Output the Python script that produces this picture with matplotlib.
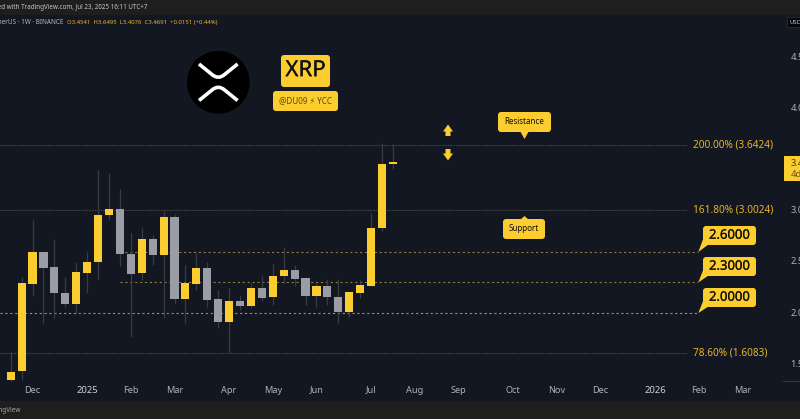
import matplotlib
matplotlib.use('Agg')
from matplotlib import pyplot as plt
from matplotlib import patheffects as pe
from matplotlib.patches import Circle, FancyBboxPatch, PathPatch, Polygon, Rectangle
from matplotlib.path import Path

# weekly candles, XRP/USDT
opens = [1.342, 1.430, 2.286, 2.599, 2.447, 2.198, 2.088, 2.394, 2.499, 2.955, 3.020, 2.580,
         2.388, 2.726, 2.567, 2.935, 2.134, 2.286, 2.437, 2.134, 1.915, 2.114, 2.071, 2.247,
         2.153, 2.362, 2.423, 2.339, 2.169, 2.264, 2.159, 2.010, 2.198, 2.267, 2.831, 3.4541]
closes = [1.426, 2.290, 2.599, 2.443, 2.196, 2.085, 2.398, 2.501, 2.958, 3.020, 2.574, 2.384,
          2.726, 2.567, 2.938, 2.134, 2.290, 2.437, 2.130, 1.915, 2.114, 2.071, 2.247, 2.150,
          2.365, 2.423, 2.335, 2.169, 2.264, 2.156, 2.010, 2.202, 2.271, 2.834, 3.454, 3.4691]
highs = [1.622, 2.349, 2.909, 2.606, 2.723, 2.355, 2.501, 2.599, 3.398, 3.366, 3.212, 2.785,
         2.834, 2.762, 3.000, 2.968, 2.469, 2.589, 2.496, 2.225, 2.241, 2.179, 2.290, 2.362,
         2.476, 2.648, 2.472, 2.339, 2.290, 2.332, 2.332, 2.202, 2.323, 2.978, 3.659, 3.6495]
lows = [1.335, 1.345, 2.169, 1.899, 1.954, 2.062, 2.003, 2.198, 2.329, 2.909, 2.459, 1.768,
        2.323, 2.466, 1.954, 2.085, 1.899, 2.225, 2.056, 1.856, 1.606, 2.029, 2.052, 2.117,
        2.075, 2.296, 2.264, 2.078, 2.056, 2.078, 1.905, 1.958, 2.144, 2.267, 2.805, 3.4076]

tick_weeks = [2, 7, 11, 15, 20, 24, 28, 33, 37, 41, 46, 50, 54, 59, 63, 67]
tick_labels = ['Dec', '2025', 'Feb', 'Mar', 'Apr', 'May', 'Jun', 'Jul', 'Aug', 'Sep', 'Oct',
               'Nov', 'Dec', '2026', 'Feb', 'Mar']
price_ticks = [1.5, 2.0, 2.5, 3.0, 4.0, 4.5]
price_labels = ['1.5', '2.0', '2.5', '3.0', '4.0', '4.5']

fib_levels = [3.6424, 3.0024, 1.6083]
fib_labels = ['200.00% (3.6424)', '161.80% (3.0024)', '78.60% (1.6083)']
key_levels = [2.6, 2.3, 2.0]
key_labels = ['2.6000', '2.3000', '2.0000']

BG = '#131722'
BAR = '#1e1e1e'
YELLOW = '#fccd2f'
GOLD = '#e5b62a'
GRAY = '#9a9ca6'
TEXT = '#aeb1b9'
WICK = '#3a3c42'

plt.rcParams['font.family'] = ['Noto Sans', 'DejaVu Sans']

W, H = 800, 419
fig = plt.figure(figsize=(W / 100, H / 100), dpi=100, facecolor=BG)

# price axes fill the whole figure, week 0 sits at 10.7px and 2.0 at 313px
ax = fig.add_axes([0, 0, 1, 1], facecolor=BG)
ax.set_xlim(-10.7 / 10.92, (W - 10.7) / 10.92)
ax.set_ylim(2 - (H - 313) / 102.3, 2 + 313 / 102.3)
ax.axis('off')

# pixel overlay for the hand drawn stickers
ov = fig.add_axes([0, 0, 1, 1], facecolor='none')
ov.set_xlim(0, W)
ov.set_ylim(H, 0)
ov.axis('off')


def week_at(px):
    return (px - 10.7) / 10.92


def sticker(x, y, w, h, text, size, weight='normal', color='#111111', stroke=0):
    ov.add_patch(FancyBboxPatch((x + 2, y + 2), w - 4, h - 4, boxstyle='round,pad=2,rounding_size=3',
                                fc=YELLOW, ec='none', zorder=5))
    t = ov.text(x + w / 2, y + h / 2 - 0.3, text, color=color, fontsize=size, fontweight=weight,
                ha='center', va='center', zorder=6)
    if stroke:
        t.set_path_effects([pe.withStroke(linewidth=stroke, foreground=color)])


# levels
for level in fib_levels:
    ax.plot([week_at(0), week_at(687)], [level, level], color='#45453f', lw=0.8, ls=(0, (1.5, 1)), zorder=1)
for level, col in zip(key_levels, ['#8a7a3e', '#8a7a3e', '#8f9088']):
    start = week_at(0) if level == 2.0 else week_at(120)
    ax.plot([start, week_at(698)], [level, level], color=col, lw=0.8, ls=(0, (2, 2.4)), zorder=1)

# candles
for i, (o, c, h, l) in enumerate(zip(opens, closes, highs, lows)):
    col = YELLOW if c >= o else GRAY
    ax.plot([i, i], [l, h], color=WICK, lw=0.9, zorder=2, solid_capstyle='butt')
    ax.add_patch(Rectangle((i - 0.37, min(o, c)), 0.74, max(abs(c - o), 0.02), fc=col, ec='none', zorder=3))

# fib labels
for level, label in zip(fib_levels, fib_labels):
    ax.text(week_at(693), level, label, color=GOLD, fontsize=7.2, va='center', ha='left', zorder=4)

# price and time scales
for p, label in zip(price_ticks, price_labels):
    ax.text(week_at(790.5), p, label, color=TEXT, fontsize=6.8, ha='left', va='center', zorder=4)
for w, label in zip(tick_weeks, tick_labels):
    bold = label.isdigit()
    ax.text(w, 2 - (390 - 313) / 102.3, label, color='#d0d2d8' if bold else TEXT,
            fontsize=6.8 if bold else 6.6, fontweight='bold' if bold else 'normal',
            ha='center', va='center', zorder=4)

# top and bottom bars
ov.add_patch(Rectangle((0, 0), W, 15, fc=BAR, ec='none', zorder=1))
ov.add_patch(Rectangle((0, 401), W, 18, fc=BAR, ec='none', zorder=1))
ov.plot([783, 800], [380.5, 380.5], color='#34373f', lw=0.8, zorder=2)
ov.text(147, 7.7, 'Published with TradingView.com, Jul 23, 2025 16:11 UTC+7', color='#c8c8c8', fontsize=4.5,
        va='center', ha='right', zorder=3)
ov.text(21, 410.5, 'TradingView', color='#a8a8a8', fontsize=4.6, va='center', ha='right', zorder=3)

# header line
ov.text(63, 22.5, 'XRP / TetherUS · 1W · BINANCE', color='#b4b7bf', fontsize=4.6, va='center', ha='right', zorder=3)
ov.text(67, 22.5, 'O3.4541  H3.6495  L3.4076  C3.4691  +0.0151 (+0.44%)', color=GOLD, fontsize=4.3,
        va='center', ha='left', zorder=3)

# logo
ov.add_patch(Circle((218.3, 82.3), 31.4, fc='black', ec='none', zorder=4))
arc_codes = [Path.MOVETO, Path.LINETO, Path.CURVE3, Path.CURVE3, Path.LINETO]
upper = Path([(199, 64), (212, 74.5), (218.3, 80), (224.6, 74.5), (237.6, 64)], arc_codes)
lower = Path([(199, 100.5), (212, 90), (218.3, 84.5), (224.6, 90), (237.6, 100.5)], arc_codes)
for p in (upper, lower):
    ov.add_patch(PathPatch(p, fc='none', ec='white', lw=2.6, capstyle='butt', joinstyle='round', zorder=5))

# stickers
sticker(281, 55, 49, 32, 'XRP', 16, stroke=0.15)
sticker(273, 91, 65, 20, '@DU09 ⚡ YCC', 5.8, weight='bold', color='#5a4a12')
sticker(498, 112, 53, 20, 'Resistance', 5.8, weight='bold')
ov.add_patch(Polygon([(520, 131), (529, 131), (524.5, 139)], fc=YELLOW, ec='none', zorder=5))
sticker(503, 219, 42, 20, 'Support', 5.8, weight='bold')
ov.add_patch(Polygon([(520, 220), (529, 220), (524.5, 216)], fc=YELLOW, ec='none', zorder=5))

# up and down arrows
ov.add_patch(Polygon([(448, 124.5), (453, 131.5), (450.5, 131.5), (450.5, 136), (445.5, 136), (445.5, 131.5),
                      (443, 131.5)], fc=YELLOW, ec='none', zorder=5))
ov.add_patch(Polygon([(448, 160.5), (453, 153.5), (450.5, 153.5), (450.5, 149), (445.5, 149), (445.5, 153.5),
                      (443, 153.5)], fc=YELLOW, ec='none', zorder=5))

# level tags
for label, y_tag, y_line in zip(key_labels, [226, 257, 288], [252, 282.5, 313]):
    sticker(703, y_tag, 53, 19, label, 9.4, stroke=0.15)
    ov.add_patch(Polygon([(698.3, y_line), (703.5, y_tag + 12), (708.5, y_tag + 18.5)], fc=YELLOW, ec='none', zorder=5))

# current price tag, cut by the edge
ov.add_patch(Rectangle((784, 156), 16, 24.5, fc=YELLOW, ec='none', zorder=5))
ov.text(791, 163, '3.4691', color='#4a3d10', fontsize=6.8, va='center', ha='left', zorder=6)
ov.text(791, 174, '4d', color='#6a5614', fontsize=6.8, va='center', ha='left', zorder=6)

# USD button
ov.add_patch(Rectangle((787, 17), 15, 10.5, fc='#05060a', ec='#2b2d33', lw=0.6, zorder=5))
ov.text(790, 22.5, 'USDT', color='#c8c8c8', fontsize=4.4, va='center', ha='left', zorder=6)

fig.savefig('out.png', dpi=100, facecolor=BG)
